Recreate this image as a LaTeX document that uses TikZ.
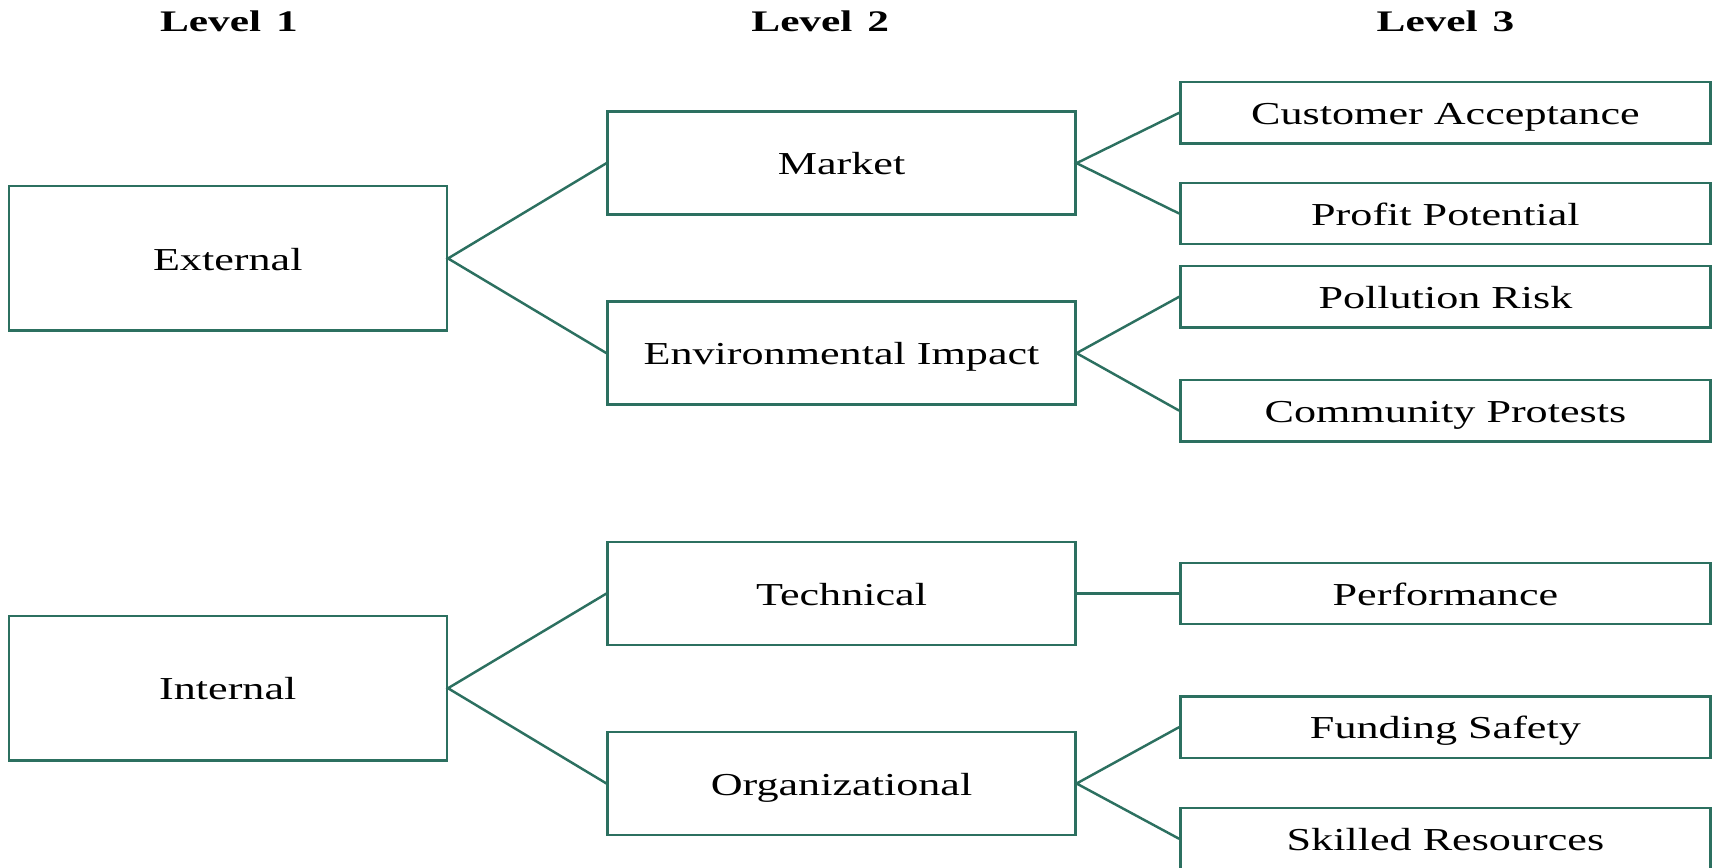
\documentclass[tikz,border=0pt]{standalone}
\usepackage{fontspec}
\setmainfont{Liberation Serif}
\newfontfamily\boitefont[FakeStretch=1.38]{Liberation Serif}
\newfontfamily\niveaufont[FakeStretch=1.45]{Liberation Serif}
\definecolor{vert}{RGB}{44,112,96}

\begin{document}
\begin{tikzpicture}[x=0.1095mm, y=-0.1095mm,
    every node/.style={draw=vert, line width=0.7pt, inner sep=0pt,
      text height=0.66em, text depth=0pt,
      font=\boitefont\fontsize{9.1}{11}\selectfont},
    niv1/.style={minimum width=43.8mm, minimum height=14.45mm},
    niv2/.style={minimum width=46.76mm, minimum height=10.3mm},
    niv3/.style={minimum width=53mm, minimum height=6.13mm},
    titre/.style={draw=none, font=\niveaufont\bfseries\fontsize{8.5}{10}\selectfont},
    lien/.style={draw=vert, line width=0.7pt}]
    \useasboundingbox (0,0) rectangle (1568,792);
    % titres des niveaux
    \node[titre] (T1) at (209,18) {Level\hspace{0.5em}1};
    \node[titre] (T2) at (749,18) {Level\hspace{0.5em}2};
    \node[titre] (T3) at (1320,18) {Level\hspace{0.5em}3};
    % niveau 1
    \node[niv1] (ext) at (208,236) {External};
    \node[niv1] (int) at (208,628.5) {Internal};
    % niveau 2
    \node[niv2] (market) at (768.5,149) {Market};
    \node[niv2] (env) at (768.5,322.5) {Environmental Impact};
    \node[niv2] (tech) at (768.5,542) {Technical};
    \node[niv2] (org) at (768.5,715.5) {Organizational};
    % niveau 3
    \node[niv3] (cust) at (1320,103) {Customer Acceptance};
    \node[niv3] (profit) at (1320,195) {Profit Potential};
    \node[niv3] (pollu) at (1320,271) {Pollution Risk};
    \node[niv3] (commu) at (1320,375) {Community Protests};
    \node[niv3] (perf) at (1320,542) {Performance};
    \node[niv3] (fund) at (1320,664) {Funding Safety};
    \node[niv3] (skill) at (1320,766) {Skilled Resources};
    % segments
    \draw[lien] (market.west) -- (ext.east) -- (env.west);
    \draw[lien] (tech.west) -- (int.east) -- (org.west);
    \draw[lien] (cust.west) -- (market.east) -- (profit.west);
    \draw[lien] (pollu.west) -- (env.east) -- (commu.west);
    \draw[lien] (tech.east) -- (perf.west);
    \draw[lien] (fund.west) -- (org.east) -- (skill.west);
\end{tikzpicture}
\end{document}
